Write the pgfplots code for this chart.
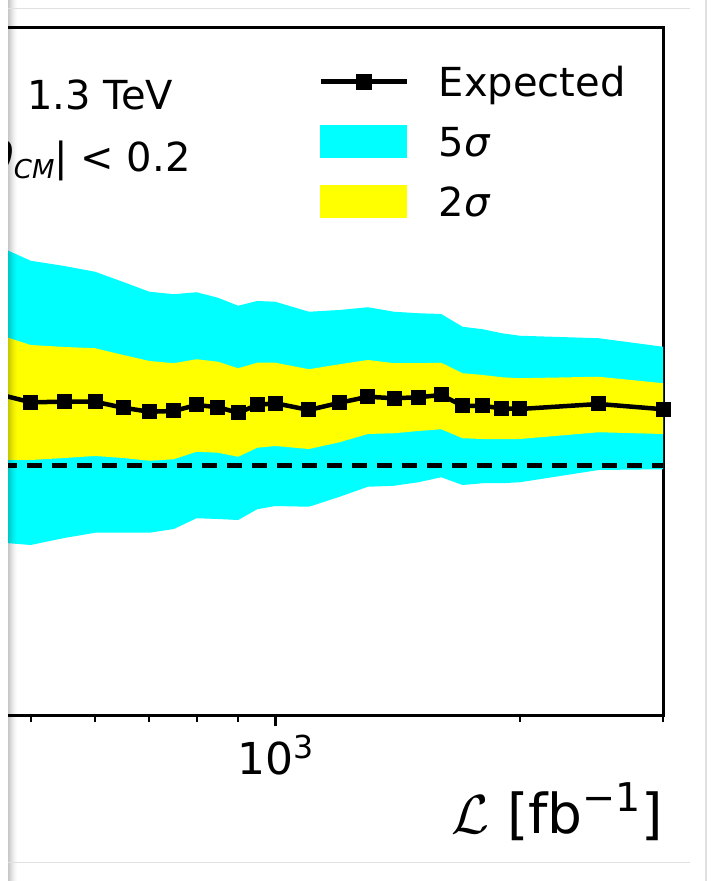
\documentclass[border=0pt]{standalone}
\usepackage{fontspec}
\setmainfont{DejaVu Sans}
\usepackage{pgfplots}
\usepackage{pgfplotstable}
\pgfplotsset{compat=1.18}
% scalable calligraphic letters at large sizes
\DeclareFontShape{OMS}{cmsy}{m}{n}{<-6>cmsy5<6-8>cmsy7<8->cmsy10}{}

\definecolor{bandfive}{RGB}{0,255,255}
\definecolor{bandtwo}{RGB}{255,255,0}

% raised / lowered smaller text: size, shift, content
\newcommand{\upsup}[3]{\raisebox{#2}{\fontsize{#1}{#1}\selectfont #3}}

% luminosity [fb^-1], expected value, 5 sigma band (cu/cl), 2 sigma band (yu/yl)
\pgfplotstableread{
L     exp    cu     yu     yl     cl
450   1.292  1.888  1.532  1.024  0.696
500   1.255  1.821  1.484  1.024  0.684
550   1.257  1.800  1.476  1.032  0.712
600   1.257  1.777  1.471  1.040  0.733
650   1.233  1.736  1.444  1.032  0.733
700   1.217  1.697  1.420  1.021  0.733
750   1.220  1.687  1.411  1.027  0.748
800   1.244  1.695  1.427  1.057  0.791
850   1.235  1.673  1.417  1.053  0.788
900   1.213  1.641  1.391  1.037  0.784
950   1.244  1.660  1.413  1.073  0.827
1000  1.251  1.657  1.413  1.080  0.840
1100  1.224  1.617  1.387  1.068  0.837
1200  1.253  1.624  1.407  1.095  0.877
1300  1.277  1.635  1.424  1.128  0.917
1400  1.271  1.617  1.411  1.131  0.921
1500  1.275  1.611  1.411  1.140  0.935
1600  1.284  1.608  1.413  1.147  0.955
1700  1.241  1.557  1.371  1.111  0.924
1800  1.240  1.547  1.364  1.108  0.931
1900  1.231  1.531  1.355  1.107  0.931
2000  1.228  1.521  1.351  1.108  0.935
2500  1.248  1.511  1.357  1.135  0.984
3000  1.227  1.477  1.331  1.128  0.987
}\sigdata

\begin{document}
\begin{tikzpicture}
\begin{scope}
\clip (4pt,0pt) rectangle (356pt,440.5pt);
\begin{axis}[
  at={(-24.05pt,82.5pt)}, anchor=south west,
  scale only axis, width=355.55pt, height=344pt,
  xmode=log, xmin=400, xmax=3000, ymin=0, ymax=2.752,
  axis line style={line width=1.5pt},
  ytick=\empty,
  xtick={1000}, xticklabels={10\upsup{15.8}{8pt}{3}},
  minor xtick={400,500,600,700,800,900,2000,3000},
  xtick pos=lower, tick align=outside,
  major tick length=5pt, minor tick length=3pt,
  major tick style={line width=1.25pt, black},
  minor tick style={line width=1pt, black},
  xticklabel style={font=\fontsize{22}{24}\selectfont, inner sep=0pt, anchor=base, yshift=-24pt},
  xlabel={$\mathcal{L}$ [fb\upsup{19.8}{10.8pt}{−1}]},
  xlabel style={at={(rel axis cs:1,0)}, anchor=base east, yshift=-58.65pt, inner sep=0pt,
    font=\fontsize{27.5}{30}\selectfont},
  legend cell align=left,
  legend style={draw=none, fill=none, inner sep=0pt, row sep=5pt, column sep=15pt,
    at={(0.5148,0.9589)}, anchor=north west,
    nodes={inner sep=0pt, text height=20pt, text depth=5pt, font=\fontsize{20}{24}\selectfont}},
]
% bands drawn as stacked areas: lower edge, then band width on top of it
\addplot[draw=none, stack plots=y, forget plot] table[x=L, y=cl] {\sigdata};
\addplot[fill=bandfive, draw=none, stack plots=y, forget plot]
  table[x=L, y expr=\thisrow{cu}-\thisrow{cl}] {\sigdata} \closedcycle;
\addplot[draw=none, stack plots=y, forget plot]
  table[x=L, y expr=\thisrow{yl}-\thisrow{cu}] {\sigdata};
\addplot[fill=bandtwo, draw=none, stack plots=y, forget plot]
  table[x=L, y expr=\thisrow{yu}-\thisrow{yl}] {\sigdata} \closedcycle;
\addplot[black, line width=2.5pt, dash pattern=on 7.5pt off 5pt, forget plot]
  coordinates {(400,1) (3000,1)};
\addplot[black, line width=2.25pt, mark=square*, mark size=3.45pt,
  mark options={line width=0.6pt, solid}, forget plot] table[x=L, y=exp] {\sigdata};

\addlegendimage{legend image code/.code={
    \draw[black, line width=2.25pt] (0pt,0pt) -- (43pt,0pt);
    \fill[black] (17.75pt,-3.75pt) rectangle (25.25pt,3.75pt);}}
\addlegendentry{Expected}
\addlegendimage{legend image code/.code={\fill[bandfive] (0pt,-8pt) rectangle (43pt,8pt);}}
\addlegendentry{5\textit{σ}}
\addlegendimage{legend image code/.code={\fill[bandtwo] (0pt,-8pt) rectangle (43pt,8pt);}}
\addlegendentry{2\textit{σ}}
\end{axis}
\node[anchor=base east, inner sep=0pt, font=\fontsize{20}{24}\selectfont]
  at (86.75pt,385.5pt) {1.3 TeV};
\node[anchor=base east, inner sep=0pt, font=\fontsize{20}{24}\selectfont]
  at (95.5pt,354.65pt) {|cos\,\textit{θ}\upsup{13}{-3.3pt}{\textit{CM}}| < 0.2};
\end{scope}
% soft shadow along the left edge
\foreach \i/\o in {0/0.22,1/0.19,2/0.16,3/0.13,4/0.10,5/0.07,6/0.05,7/0.03,8/0.015}
  \fill[black, opacity=\o] (4pt+\i*0.5pt,0pt) rectangle (4.5pt+\i*0.5pt,440.5pt);
% faint page frame
\draw[black!12, line width=0.5pt] (4pt,436pt) -- (345pt,436pt);
\draw[black!12, line width=0.5pt] (4pt,9pt) -- (345pt,9pt);
\draw[black!12, line width=0.75pt] (353pt,0pt) -- (353pt,440.5pt);
\pgfresetboundingbox
\useasboundingbox (0pt,0pt) rectangle (356pt,440.5pt);
\end{tikzpicture}
\end{document}
